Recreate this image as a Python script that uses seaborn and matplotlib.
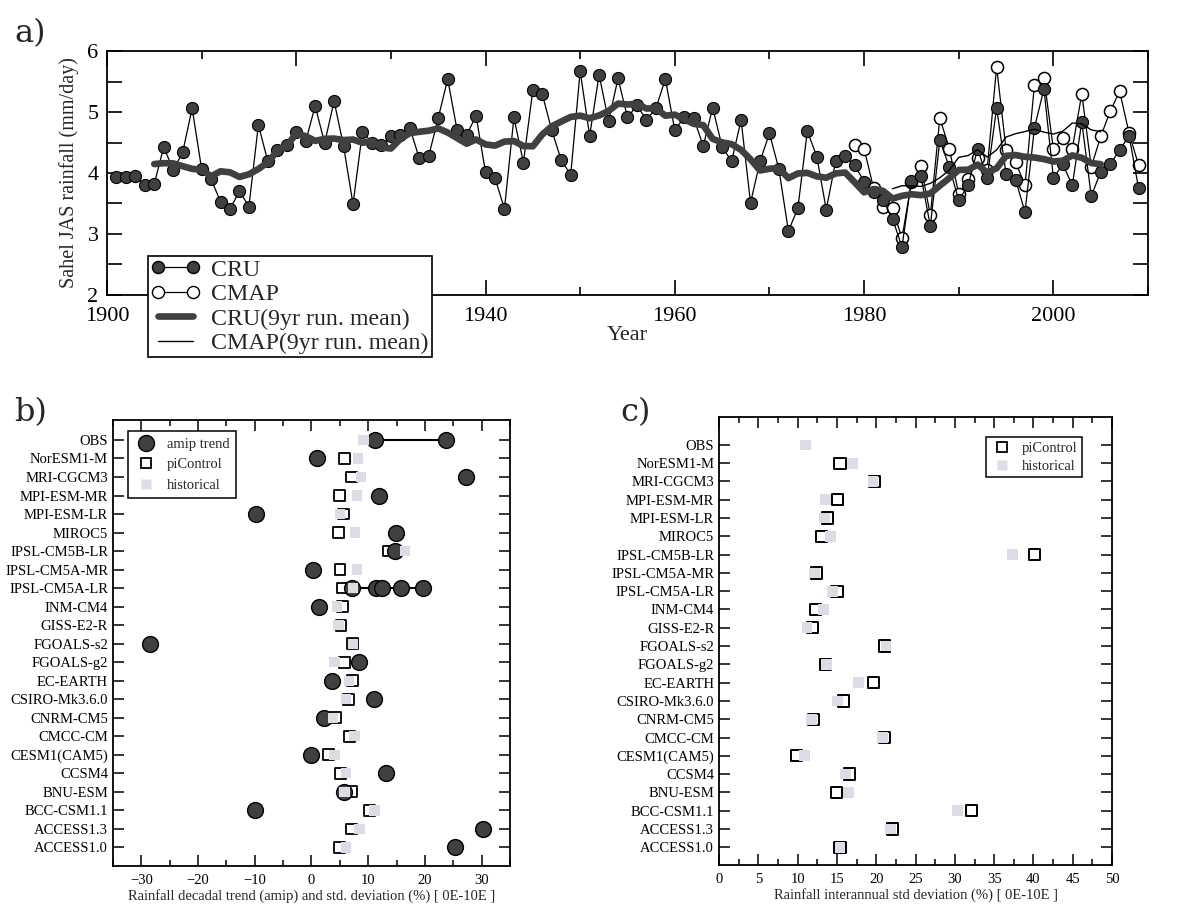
import numpy as np
import pandas as pd
import matplotlib
matplotlib.use("Agg")
import matplotlib.pyplot as plt
import seaborn as sns
from matplotlib.lines import Line2D
from matplotlib.ticker import MultipleLocator, FixedLocator

# ---------------- data : panel a ----------------
cru_years = list(range(1901, 2010))
cru_rain = [3.94, 3.93, 3.95, 3.80, 3.82, 4.43, 4.05, 4.34, 5.06, 4.07,
            3.90, 3.53, 3.41, 3.70, 3.45, 4.79, 4.19, 4.38, 4.46, 4.68,
            4.52, 5.10, 4.49, 5.18, 4.44, 3.49, 4.68, 4.50, 4.46, 4.60,
            4.62, 4.74, 4.24, 4.28, 4.90, 5.54, 4.70, 4.62, 4.94, 4.01,
            3.92, 3.41, 4.91, 4.17, 5.36, 5.29, 4.70, 4.21, 3.97, 5.67,
            4.61, 5.61, 4.85, 5.55, 4.91, 5.11, 4.87, 5.06, 5.54, 4.70,
            4.92, 4.90, 4.44, 5.07, 4.43, 4.19, 4.87, 3.51, 4.19, 4.65,
            4.06, 3.05, 3.42, 4.69, 4.27, 3.40, 4.20, 4.28, 4.13, 3.86,
            3.69, 3.55, 3.25, 2.79, 3.87, 3.95, 3.13, 4.54, 4.10, 3.55,
            3.80, 4.40, 3.91, 5.07, 3.98, 3.89, 3.36, 4.74, 5.38, 3.92,
            4.14, 3.80, 4.84, 3.62, 4.02, 4.14, 4.38, 4.61, 3.75]
cmap_years = list(range(1979, 2010))
cmap_rain = [4.46, 4.40, 3.75, 3.45, 3.42, 2.93, 3.85, 4.11, 3.31, 4.90,
             4.40, 3.65, 3.90, 4.25, 4.05, 5.74, 4.38, 4.18, 3.80, 5.45,
             5.56, 4.39, 4.57, 4.40, 5.30, 4.10, 4.60, 5.01, 5.34, 4.65,
             4.13]
year_ticks = [1900, 1920, 1940, 1960, 1980, 2000]
# the 1920 label is hidden behind the legend in the reference
year_labels = ["1900", "", "1940", "1960", "1980", "2000"]

# ---------------- data : panels b, c ----------------
models = ["OBS", "NorESM1-M", "MRI-CGCM3", "MPI-ESM-MR", "MPI-ESM-LR", "MIROC5",
          "IPSL-CM5B-LR", "IPSL-CM5A-MR", "IPSL-CM5A-LR", "INM-CM4", "GISS-E2-R",
          "FGOALS-s2", "FGOALS-g2", "EC-EARTH", "CSIRO-Mk3.6.0", "CNRM-CM5",
          "CMCC-CM", "CESM1(CAM5)", "CCSM4", "BNU-ESM", "BCC-CSM1.1",
          "ACCESS1.3", "ACCESS1.0"]

amip_model = ["OBS", "OBS", "NorESM1-M", "MRI-CGCM3", "MPI-ESM-MR", "MPI-ESM-LR",
              "MIROC5", "IPSL-CM5B-LR", "IPSL-CM5A-MR",
              "IPSL-CM5A-LR", "IPSL-CM5A-LR", "IPSL-CM5A-LR", "IPSL-CM5A-LR", "IPSL-CM5A-LR",
              "INM-CM4", "FGOALS-s2", "FGOALS-g2", "EC-EARTH", "CSIRO-Mk3.6.0",
              "CNRM-CM5", "CESM1(CAM5)", "CCSM4", "BNU-ESM", "BCC-CSM1.1",
              "ACCESS1.3", "ACCESS1.0"]
amip_trend = [11.2, 23.7, 0.9, 27.2, 12.0, -9.75,
              14.9, 14.7, 0.2,
              7.1, 11.4, 12.4, 15.8, 19.6,
              1.4, -28.4, 8.45, 3.6, 11.1,
              2.2, -0.05, 13.15, 5.8, -10.0,
              30.2, 25.3]

b_picontrol = [np.nan, 5.8, 7.1, 4.9, 5.7, 4.75, 13.6, 5.05, 5.5, 5.5, 5.2,
               7.3, 5.8, 7.3, 6.5, 4.2, 6.7, 3.0, 5.1, 7.0, 10.2, 7.1, 4.9]
b_historical = [9.2, 8.2, 8.75, 8.0, 5.05, 7.7, 16.5, 8.0, 7.3, 4.45, 4.75,
                7.3, 4.05, 6.6, 6.1, 3.75, 7.6, 4.05, 6.1, 5.85, 11.1, 8.45, 6.1]

c_picontrol = [np.nan, 15.4, 19.8, 15.05, 13.8, 13.0, 40.1, 12.4, 15.0, 12.3, 11.85,
               21.0, 13.55, 19.6, 15.8, 12.05, 21.0, 9.85, 16.55, 14.9, 32.1, 22.1, 15.4]
c_historical = [11.0, 17.0, 19.6, 13.55, 13.4, 14.2, 37.3, 12.1, 14.4, 13.3, 11.2,
                21.25, 13.7, 17.7, 15.05, 11.8, 20.8, 10.9, 16.1, 16.45, 30.3, 21.8, 15.4]

# ---------------- style ----------------
sns.set_theme(style="ticks")
plt.rcParams["font.family"] = ["Liberation Serif", "DejaVu Serif"]
plt.rcParams["axes.linewidth"] = 1.3

DARK = "#404040"
LIGHT = "#dcdce6"

fig = plt.figure(figsize=(11.99, 9.06), dpi=100)
ax_a = fig.add_axes([0.0892, 0.6744, 0.8683, 0.2693])
ax_b = fig.add_axes([0.0942, 0.0442, 0.3311, 0.4923])
ax_c = fig.add_axes([0.5997, 0.0453, 0.3278, 0.4945])

# ---------------- panel a ----------------
df_cru = pd.DataFrame({"year": cru_years, "rain": cru_rain})
df_cru["mean9"] = df_cru["rain"].rolling(9, center=True).mean()
df_cmap = pd.DataFrame({"year": cmap_years, "rain": cmap_rain})
df_cmap["mean9"] = df_cmap["rain"].rolling(9, center=True).mean()

sns.lineplot(data=df_cru, x="year", y="rain", ax=ax_a, color="black", lw=0.9,
             marker="o", markersize=8.7, markerfacecolor=DARK,
             markeredgecolor="black", markeredgewidth=0.8, errorbar=None, zorder=3)
sns.lineplot(data=df_cmap, x="year", y="rain", ax=ax_a, color="black", lw=0.9,
             marker="o", markersize=8.7, markerfacecolor="white",
             markeredgecolor="black", markeredgewidth=1.1, errorbar=None, zorder=2)
sns.lineplot(data=df_cru.dropna(), x="year", y="mean9", ax=ax_a, color=DARK,
             lw=4.8, errorbar=None, zorder=4)
sns.lineplot(data=df_cmap.dropna(), x="year", y="mean9", ax=ax_a, color="black",
             lw=1.0, errorbar=None, zorder=4)

ax_a.set_xlim(1900, 2010)
ax_a.set_ylim(2, 6)
ax_a.xaxis.set_major_locator(FixedLocator(year_ticks))
ax_a.set_xticklabels(year_labels)
ax_a.xaxis.set_minor_locator(MultipleLocator(10))
ax_a.yaxis.set_major_locator(MultipleLocator(1))
ax_a.yaxis.set_minor_locator(MultipleLocator(0.5))
ax_a.tick_params(axis="both", which="both", direction="in", top=True, right=True,
                 labelsize=16, width=1.2, colors="black")
ax_a.tick_params(axis="x", which="major", length=11, pad=9)
ax_a.tick_params(axis="x", which="minor", length=6)
ax_a.tick_params(axis="y", which="both", length=11, pad=6)
ax_a.set_xlabel("Year", fontsize=16, labelpad=0)
ax_a.set_ylabel("Sahel JAS rainfall (mm/day)", fontsize=14.5, labelpad=6)

h_a = [Line2D([], [], color="black", lw=0.9, marker="o", ms=8.7, mfc=DARK, mec="black"),
       Line2D([], [], color="black", lw=0.9, marker="o", ms=8.7, mfc="white", mec="black"),
       Line2D([], [], color=DARK, lw=4.8),
       Line2D([], [], color="black", lw=1.0)]
leg_a = ax_a.legend(h_a, ["CRU", "CMAP", "CRU(9yr run. mean)", "CMAP(9yr run. mean)"],
                    loc="upper left", bbox_to_anchor=(0.039, 0.16), numpoints=2,
                    fontsize=17.2, frameon=True, fancybox=False, framealpha=1,
                    edgecolor="black", handlelength=2.1, handletextpad=0.45,
                    labelspacing=0.12, borderpad=0.12, borderaxespad=0)
leg_a.get_frame().set_linewidth(1.2)
leg_a.set_zorder(10)

# ---------------- panel b ----------------
ypos = {m: len(models) - 1 - i for i, m in enumerate(models)}

df_amip = pd.DataFrame({"model": amip_model, "val": amip_trend})
df_amip["y"] = df_amip["model"].map(ypos)
df_b = pd.DataFrame({"model": models, "pic": b_picontrol, "hist": b_historical})
df_b["y"] = df_b["model"].map(ypos)

sns.lineplot(data=df_amip, x="val", y="y", units="model", estimator=None,
             ax=ax_b, color="black", lw=1.5, zorder=2)
sns.scatterplot(data=df_b.dropna(subset=["pic"]), x="pic", y="y", ax=ax_b, marker="s",
                s=60, facecolor="none", edgecolor="black", linewidth=1.3, zorder=3)
sns.scatterplot(data=df_amip, x="val", y="y", ax=ax_b, marker="o", s=130,
                color=DARK, edgecolor="black", linewidth=1.0, zorder=4)
sns.scatterplot(data=df_b, x="hist", y="y", ax=ax_b, marker="s", s=55,
                color=LIGHT, edgecolor="none", linewidth=0, zorder=5)

ax_b.set_xlim(-35, 35)
ax_b.set_ylim(-1, len(models) + 0.08)
ax_b.set_yticks(range(len(models)))
ax_b.set_yticklabels(models[::-1])
ax_b.xaxis.set_major_locator(MultipleLocator(10))
ax_b.xaxis.set_minor_locator(MultipleLocator(5))
ax_b.tick_params(axis="both", which="both", direction="in", top=True, right=True,
                 labelsize=10.5, width=1.1, colors="black")
ax_b.tick_params(axis="both", which="major", length=8)
ax_b.tick_params(axis="x", which="major", pad=6)
ax_b.tick_params(axis="x", which="minor", length=4)
ax_b.set_xlabel("Rainfall decadal trend (amip) and std. deviation (%) [ 0E-10E ]",
                fontsize=10.5, labelpad=1)
ax_b.set_ylabel("")

h_b = [Line2D([], [], ls="none", marker="o", ms=11.5, mfc=DARK, mec="black"),
       Line2D([], [], ls="none", marker="s", ms=7.5, mfc="none", mec="black", mew=1.3),
       Line2D([], [], ls="none", marker="s", ms=7.5, mfc=LIGHT, mec="none")]
leg_b = ax_b.legend(h_b, ["amip trend", "piControl", "historical"], loc="upper left",
                    bbox_to_anchor=(0.038, 0.975), fontsize=10.5, frameon=True,
                    fancybox=False, framealpha=1, edgecolor="black",
                    handlelength=1.6, handletextpad=0.6, labelspacing=0.5,
                    borderpad=0.45, borderaxespad=0)
leg_b.get_frame().set_linewidth(1.1)

# ---------------- panel c ----------------
df_c = pd.DataFrame({"model": models, "pic": c_picontrol, "hist": c_historical})
df_c["y"] = df_c["model"].map(ypos)
sns.scatterplot(data=df_c.dropna(subset=["pic"]), x="pic", y="y", ax=ax_c, marker="s",
                s=65, facecolor="none", edgecolor="black", linewidth=1.4, zorder=3)
sns.scatterplot(data=df_c, x="hist", y="y", ax=ax_c, marker="s", s=60,
                color=LIGHT, edgecolor="none", linewidth=0, zorder=4)

ax_c.set_xlim(0, 50)
ax_c.set_ylim(-0.97, len(models) - 1 + 1.53)
ax_c.set_yticks(range(len(models)))
ax_c.set_yticklabels(models[::-1])
ax_c.xaxis.set_major_locator(MultipleLocator(5))
ax_c.xaxis.set_minor_locator(MultipleLocator(2.5))
ax_c.tick_params(axis="both", which="both", direction="in", top=True, right=True,
                 labelsize=10.5, width=1.1, colors="black")
ax_c.tick_params(axis="both", which="major", length=8)
ax_c.tick_params(axis="x", which="major", pad=6)
ax_c.tick_params(axis="x", which="minor", length=4)
ax_c.set_xlabel("Rainfall interannual std deviation (%) [ 0E-10E ]", fontsize=10.5, labelpad=1)
ax_c.set_ylabel("")

h_c = [Line2D([], [], ls="none", marker="s", ms=7.5, mfc="none", mec="black", mew=1.3),
       Line2D([], [], ls="none", marker="s", ms=7.5, mfc=LIGHT, mec="none")]
leg_c = ax_c.legend(h_c, ["piControl", "historical"], loc="upper right",
                    bbox_to_anchor=(0.924, 0.955), fontsize=10.5, frameon=True,
                    fancybox=False, framealpha=1, edgecolor="black",
                    handlelength=1.6, handletextpad=0.6, labelspacing=0.35,
                    borderpad=0.3, borderaxespad=0)
leg_c.get_frame().set_linewidth(1.1)

for ax in (ax_a, ax_b, ax_c):
    for sp in ax.spines.values():
        sp.set_color("black")
        sp.set_visible(True)

# ---------------- panel letters ----------------
fig.text(0.012, 0.963, "a)", fontsize=23, family="DejaVu Serif", va="center")
fig.text(0.012, 0.545, "b)", fontsize=23, family="DejaVu Serif", va="center")
fig.text(0.517, 0.545, "c)", fontsize=23, family="DejaVu Serif", va="center")

fig.savefig("out.png", dpi=100, facecolor="white")
